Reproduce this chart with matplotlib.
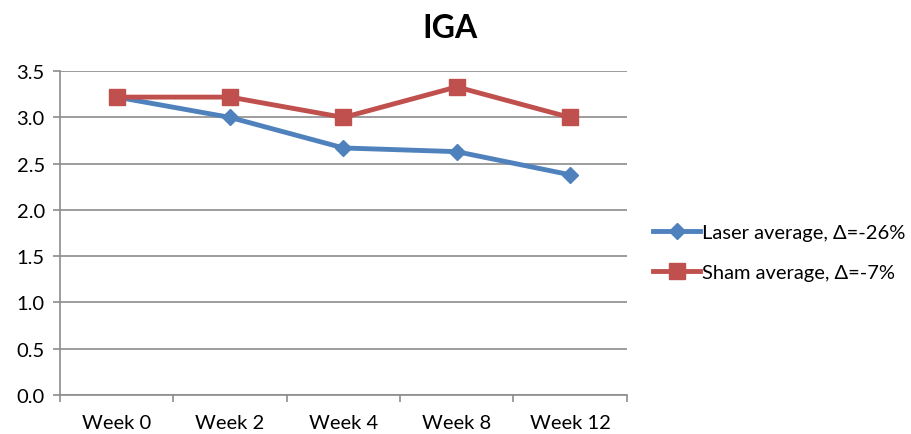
import numpy as np
import matplotlib.pyplot as plt

plt.rcParams['font.family'] = ['Lato', 'DejaVu Sans']

weeks = ['Week 0', 'Week 2', 'Week 4', 'Week 8', 'Week 12']
laser = [3.22, 3.00, 2.67, 2.63, 2.38]
sham = [3.22, 3.22, 3.00, 3.33, 3.00]

blue = '#4F81BD'
red = '#C0504D'
grid_c = '#8C8C8C'

fig = plt.figure(figsize=(9.11, 4.35), dpi=100)
ax = fig.add_axes([0.066, 0.09, 0.622, 0.744])

x = np.arange(len(weeks))
ax.plot(x, laser, color=blue, lw=3.5, marker='D', ms=8, label='Laser average, Δ=-26%', zorder=3)
ax.plot(x, sham, color=red, lw=3.5, marker='s', ms=12, label='Sham average, Δ=-7%', zorder=4)

ax.set_xlim(-0.5, len(weeks) - 0.5)
ax.set_ylim(0, 3.5)
ax.set_yticks(np.arange(0, 3.51, 0.5))
ax.set_yticklabels(['%.1f' % v for v in np.arange(0, 3.51, 0.5)], fontsize=14.5)
ax.yaxis.grid(True, color=grid_c, lw=1.2)
ax.set_axisbelow(True)

# category labels centered, tick marks on the boundaries
ax.set_xticks(x)
ax.set_xticklabels(weeks, fontsize=14.5)
ax.tick_params(axis='x', which='major', length=0, pad=14)
ax.set_xticks(np.arange(-0.5, len(weeks), 1), minor=True)
ax.tick_params(axis='x', which='minor', length=5, color=grid_c, width=1.2)
ax.tick_params(axis='y', length=5, color=grid_c, width=1.2, pad=6)

for s in ['top', 'right']:
    ax.spines[s].set_visible(False)
for s in ['left', 'bottom']:
    ax.spines[s].set_color(grid_c)
    ax.spines[s].set_linewidth(1.2)

fig.text(0.494, 0.935, 'IGA', fontsize=23, fontweight='bold', ha='center', va='center')

ax.legend(loc='center left', bbox_to_anchor=(1.015, 0.44), frameon=False, fontsize=14.5,
          handlelength=2.3, handletextpad=0.1, labelspacing=1.1)

plt.savefig('out.png', dpi=100)
